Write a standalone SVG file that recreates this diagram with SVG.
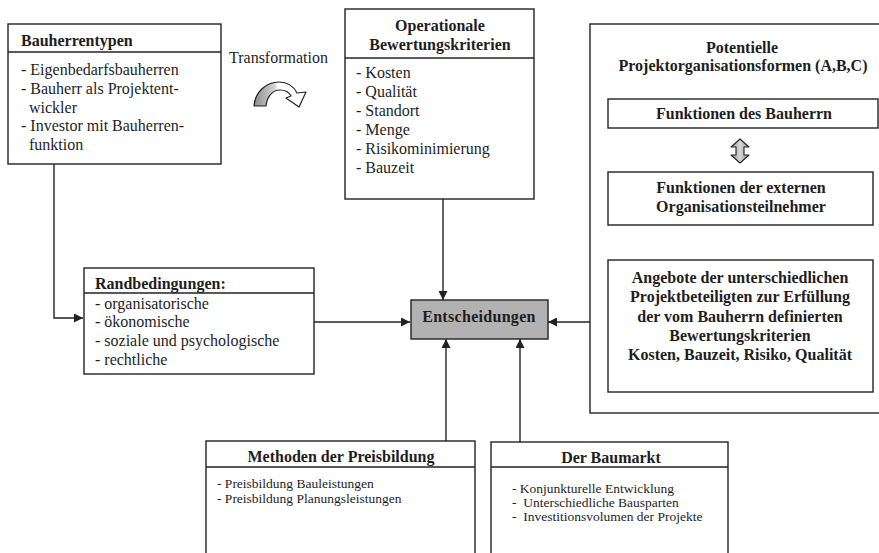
<svg xmlns="http://www.w3.org/2000/svg" width="879" height="553" viewBox="0 0 879 553">
<style>
.box{fill:#fff;stroke:#222;stroke-width:1.4}
.div{stroke:#222;stroke-width:1.4}
.t{font-family:"Liberation Serif","Times New Roman",serif;font-size:16px;fill:#1e1e1e}
.b{font-weight:bold}
.s{font-size:13.5px}
.m{text-anchor:middle}
.con{fill:none;stroke:#222;stroke-width:1.4}
</style>
<defs>
<marker id="ah" viewBox="0 0 10 10" refX="10" refY="5" markerWidth="9" markerHeight="9" markerUnits="userSpaceOnUse" orient="auto">
<path d="M0 0 L10 5 L0 10 Z" fill="#222"/>
</marker>
<linearGradient id="tg" gradientUnits="userSpaceOnUse" x1="254" y1="0" x2="300" y2="0">
<stop offset="0" stop-color="#8c8c8c"/>
<stop offset="0.45" stop-color="#d4d4d4"/>
<stop offset="0.52" stop-color="#fff"/>
<stop offset="1" stop-color="#fff"/>
</linearGradient>
<linearGradient id="dg" x1="0" y1="0" x2="1" y2="0">
<stop offset="0" stop-color="#8f8f8f"/>
<stop offset="0.5" stop-color="#d8d8d8"/>
<stop offset="1" stop-color="#8f8f8f"/>
</linearGradient>
</defs>
<rect width="879" height="553" fill="#fff"/>

<g id="connectors">
<path class="con" d="M54 164 V318 H83" marker-end="url(#ah)"/>
<path class="con" d="M443 199 V300" marker-end="url(#ah)"/>
<path class="con" d="M314 322 H410" marker-end="url(#ah)"/>
<path class="con" d="M590 322 H548" marker-end="url(#ah)"/>
<path class="con" d="M446 441 V339" marker-end="url(#ah)"/>
<path class="con" d="M520 442 V339" marker-end="url(#ah)"/>
</g>

<g id="bauherrentypen">
<rect class="box" x="8" y="24" width="213" height="140"/>
<line class="div" x1="8" y1="52" x2="221" y2="52"/>
<text class="t b" x="21" y="46">Bauherrentypen</text>
<text class="t" x="21" y="75">- Eigenbedarfsbauherren</text>
<text class="t" x="21" y="94">- Bauherr als Projektent-</text>
<text class="t" x="29" y="113">wickler</text>
<text class="t" x="21" y="131">- Investor mit Bauherren-</text>
<text class="t" x="29" y="150">funktion</text>
</g>

<g id="transformation">
<text class="t" x="229" y="63">Transformation</text>
<path d="M254 106 C255 92 266 82 279 82 C288 82 294 87 297 93 L306 92 L299 107 L286 98 L291 96 C289 92 285 90 280 90 C272 90 267 97 266 106 Z" fill="url(#tg)" stroke="#222" stroke-width="1.2" stroke-linejoin="round"/>
</g>

<g id="operationale">
<rect class="box" x="345" y="9" width="189" height="190"/>
<line class="div" x1="345" y1="58" x2="534" y2="58"/>
<text class="t b m" x="440" y="31">Operationale</text>
<text class="t b m" x="440" y="50">Bewertungskriterien</text>
<text class="t" x="356" y="78">- Kosten</text>
<text class="t" x="356" y="97">- Qualität</text>
<text class="t" x="356" y="116">- Standort</text>
<text class="t" x="356" y="135">- Menge</text>
<text class="t" x="356" y="154">- Risikominimierung</text>
<text class="t" x="356" y="173">- Bauzeit</text>
</g>

<g id="potentielle">
<rect class="box" x="590" y="24" width="300" height="389"/>
<text class="t b m" x="742" y="53">Potentielle</text>
<text class="t b m" x="743" y="71">Projektorganisationsformen (A,B,C)</text>
</g>

<g id="funktionen-bauherr">
<rect class="box" x="608" y="99" width="270" height="29"/>
<text class="t b m" x="744" y="119">Funktionen des Bauherrn</text>
</g>

<g id="double-arrow">
<path d="M740 139 L749 147 L744 147 L744 155 L749 155 L740 163 L731 155 L736 155 L736 147 L731 147 Z" fill="url(#dg)" stroke="#222" stroke-width="1.1" stroke-linejoin="round"/>
</g>

<g id="funktionen-extern">
<rect class="box" x="608" y="172" width="265" height="53"/>
<text class="t b m" x="741" y="193">Funktionen der externen</text>
<text class="t b m" x="741" y="212">Organisationsteilnehmer</text>
</g>

<g id="angebote">
<rect class="box" x="608" y="260" width="265" height="132"/>
<text class="t b m" x="740" y="283">Angebote der unterschiedlichen</text>
<text class="t b m" x="740" y="302">Projektbeteiligten zur Erfüllung</text>
<text class="t b m" x="740" y="322">der vom Bauherrn definierten</text>
<text class="t b m" x="740" y="341">Bewertungskriterien</text>
<text class="t b m" x="740" y="360">Kosten, Bauzeit, Risiko, Qualität</text>
</g>

<g id="randbedingungen">
<rect class="box" x="84" y="268" width="230" height="106"/>
<line class="div" x1="84" y1="293" x2="314" y2="293"/>
<text class="t b" x="95" y="289">Randbedingungen:</text>
<text class="t" x="95" y="309">- organisatorische</text>
<text class="t" x="95" y="327">- ökonomische</text>
<text class="t" x="95" y="346">- soziale und psychologische</text>
<text class="t" x="95" y="365">- rechtliche</text>
</g>

<g id="entscheidungen">
<rect x="411" y="300" width="137" height="39" fill="#b2b2b2" stroke="#222" stroke-width="1.4"/>
<text class="t b m" x="479" y="322" letter-spacing="0.3">Entscheidungen</text>
</g>

<g id="methoden">
<rect class="box" x="206" y="441" width="269" height="130"/>
<line class="div" x1="206" y1="467" x2="475" y2="467"/>
<text class="t b m" x="341" y="462">Methoden der Preisbildung</text>
<text class="t s" x="217" y="488">- Preisbildung Bauleistungen</text>
<text class="t s" x="217" y="503">- Preisbildung Planungsleistungen</text>
</g>

<g id="baumarkt">
<rect class="box" x="491" y="442" width="237" height="130"/>
<line class="div" x1="491" y1="467" x2="728" y2="467"/>
<text class="t b m" x="611" y="463">Der Baumarkt</text>
<text class="t s" x="512" y="493">- Konjunkturelle Entwicklung</text>
<text class="t s" x="512" y="507" xml:space="preserve">-  Unterschiedliche Bausparten</text>
<text class="t s" x="512" y="521" xml:space="preserve">-  Investitionsvolumen der Projekte</text>
</g>
</svg>
